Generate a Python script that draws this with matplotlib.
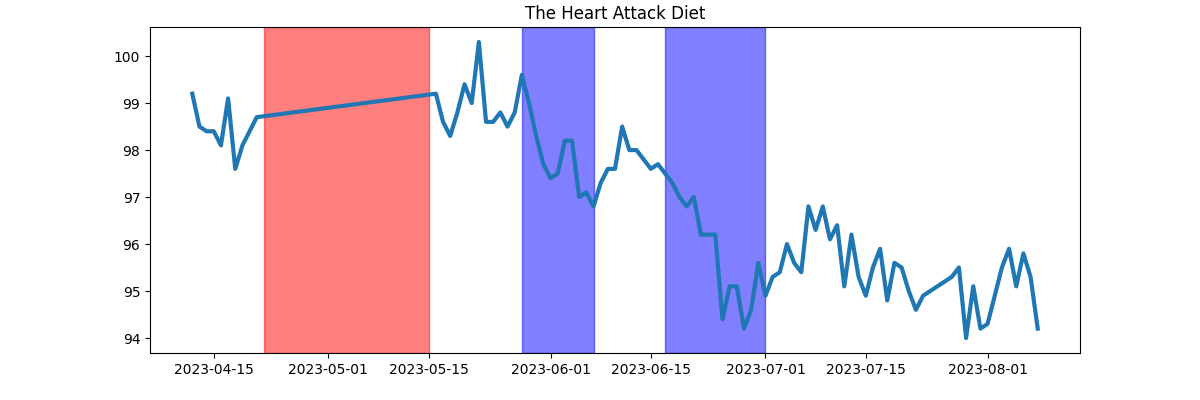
#!/usr/bin/env python3
"""Daily weight log with diet phases shaded."""

import matplotlib

matplotlib.use("Agg")
import matplotlib.pyplot as plt
import pandas as pd

# Weight readings (date, value).
DATES = [
    "2023-04-12", "2023-04-13", "2023-04-14", "2023-04-15", "2023-04-16",
    "2023-04-17", "2023-04-18", "2023-04-19", "2023-04-21",
    "2023-05-16", "2023-05-17", "2023-05-18", "2023-05-19", "2023-05-20",
    "2023-05-21", "2023-05-22", "2023-05-23", "2023-05-24", "2023-05-25",
    "2023-05-26", "2023-05-27", "2023-05-28", "2023-05-29", "2023-05-30",
    "2023-05-31", "2023-06-01", "2023-06-02", "2023-06-03", "2023-06-04",
    "2023-06-05", "2023-06-06", "2023-06-07", "2023-06-08", "2023-06-09",
    "2023-06-10", "2023-06-11", "2023-06-12", "2023-06-13", "2023-06-14",
    "2023-06-15", "2023-06-16", "2023-06-17", "2023-06-18", "2023-06-19",
    "2023-06-20", "2023-06-21", "2023-06-22", "2023-06-23", "2023-06-24",
    "2023-06-25", "2023-06-26", "2023-06-27", "2023-06-28", "2023-06-29",
    "2023-06-30", "2023-07-01", "2023-07-02", "2023-07-03", "2023-07-04",
    "2023-07-05", "2023-07-06", "2023-07-07", "2023-07-08", "2023-07-09",
    "2023-07-10", "2023-07-11", "2023-07-12", "2023-07-13", "2023-07-14",
    "2023-07-15", "2023-07-16", "2023-07-17", "2023-07-18", "2023-07-19",
    "2023-07-20", "2023-07-21", "2023-07-22", "2023-07-23",
    "2023-07-27", "2023-07-28", "2023-07-29", "2023-07-30", "2023-07-31",
    "2023-08-01", "2023-08-02", "2023-08-03", "2023-08-04", "2023-08-05",
    "2023-08-06", "2023-08-07", "2023-08-08",
]
WEIGHTS = [
    99.2, 98.5, 98.4, 98.4, 98.1,
    99.1, 97.6, 98.1, 98.7,
    99.2, 98.6, 98.3, 98.8, 99.4,
    99.0, 100.3, 98.6, 98.6, 98.8,
    98.5, 98.8, 99.6, 99.0, 98.3,
    97.7, 97.4, 97.5, 98.2, 98.2,
    97.0, 97.1, 96.8, 97.3, 97.6,
    97.6, 98.5, 98.0, 98.0, 97.8,
    97.6, 97.7, 97.5, 97.3, 97.0,
    96.8, 97.0, 96.2, 96.2, 96.2,
    94.4, 95.1, 95.1, 94.2, 94.6,
    95.6, 94.9, 95.3, 95.4, 96.0,
    95.6, 95.4, 96.8, 96.3, 96.8,
    96.1, 96.4, 95.1, 96.2, 95.3,
    94.9, 95.5, 95.9, 94.8, 95.6,
    95.5, 95.0, 94.6, 94.9,
    95.3, 95.5, 94.0, 95.1, 94.2,
    94.3, 94.9, 95.5, 95.9, 95.1,
    95.8, 95.3, 94.2,
]

# Shaded phases: (start, end, colour).
SPAN_STARTS = ["2023-04-22", "2023-05-28", "2023-06-17"]
SPAN_ENDS = ["2023-05-15", "2023-06-07", "2023-07-01"]
SPAN_COLORS = ["red", "blue", "blue"]


def main():
    dates = pd.to_datetime(DATES)

    fig, ax = plt.subplots(figsize=(12, 4), dpi=100)
    fig.subplots_adjust(left=0.125, right=0.9, top=0.932, bottom=0.118)

    ax.plot(dates, WEIGHTS, color="tab:blue", linewidth=3)
    for start, end, color in zip(SPAN_STARTS, SPAN_ENDS, SPAN_COLORS):
        ax.axvspan(pd.Timestamp(start), pd.Timestamp(end), color=color, alpha=0.5)

    ax.set_title("The Heart Attack Diet")

    fig.savefig("out.png", dpi=100)
    plt.close(fig)


if __name__ == "__main__":
    main()
